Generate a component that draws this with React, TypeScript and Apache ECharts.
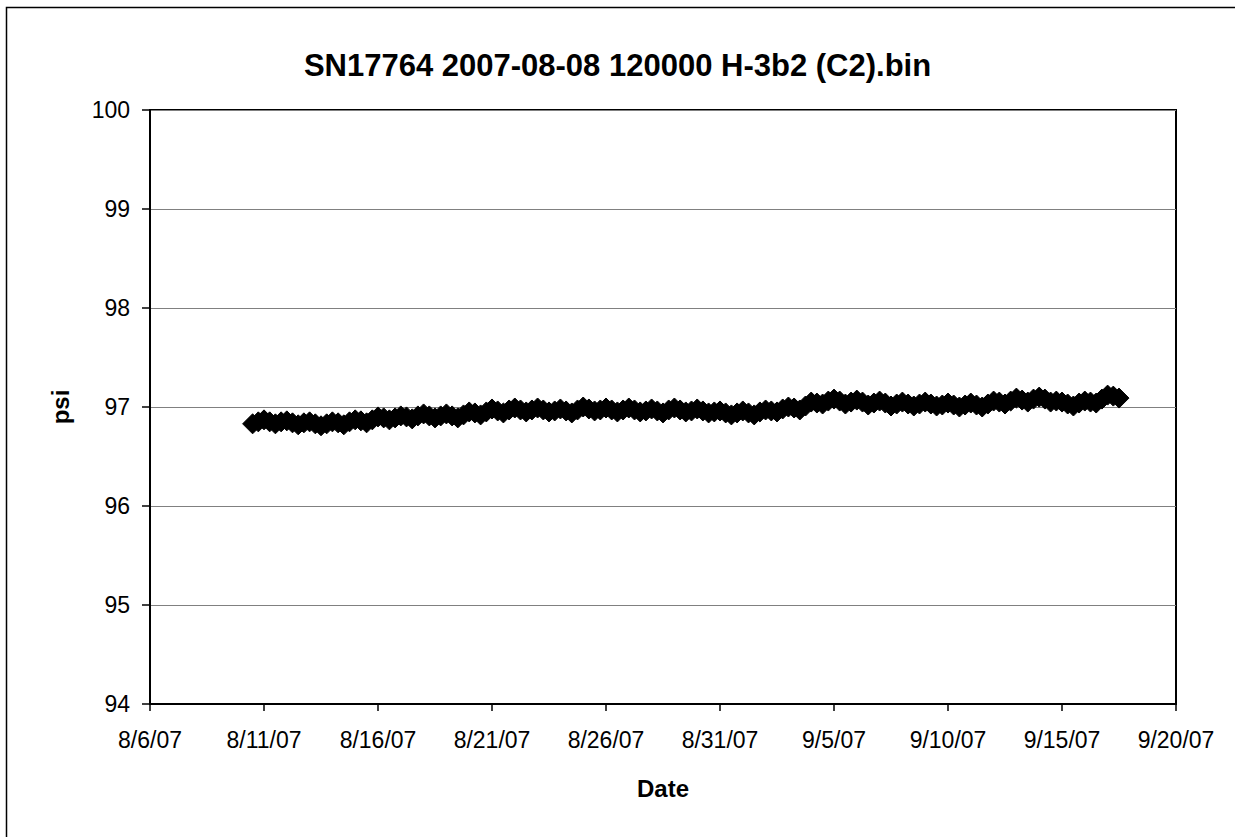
import React, { useEffect, useRef } from "react";
import * as echarts from "echarts";

const titleText = "SN17764 2007-08-08 120000 H-3b2 (C2).bin";
const xAxisName = "Date";
const yAxisName = "psi";

// x axis: days after 8/6/07
const axisStartUTC = Date.UTC(2007, 7, 6);
const xMin = 0;
const xMax = 45;
const xInterval = 5;
const yMin = 94;
const yMax = 100;
const yInterval = 1;

// first reading at 8/10/07 12:00, one reading every 6 hours
const firstDay = 4.5;
const stepDays = 0.25;
const psiValues = [
  96.83, 96.85,
  96.87, 96.85, 96.83, 96.85,
  96.86, 96.84, 96.82, 96.84,
  96.85, 96.83, 96.81, 96.83,
  96.85, 96.84, 96.82, 96.85,
  96.87, 96.86, 96.84, 96.87,
  96.9, 96.89, 96.87, 96.89,
  96.91, 96.9, 96.88, 96.91,
  96.93, 96.91, 96.89, 96.91,
  96.93, 96.91, 96.89, 96.92,
  96.95, 96.94, 96.92, 96.95,
  96.98, 96.96, 96.94, 96.97,
  96.99, 96.97, 96.95, 96.97,
  96.99, 96.97, 96.95, 96.96,
  96.98, 96.96, 96.94, 96.97,
  97.0, 96.98, 96.96, 96.97,
  96.99, 96.97, 96.95, 96.97,
  96.99, 96.97, 96.95, 96.96,
  96.98, 96.96, 96.94, 96.97,
  96.99, 96.97, 96.95, 96.96,
  96.98, 96.96, 96.94, 96.95,
  96.96, 96.94, 96.92, 96.94,
  96.96, 96.94, 96.92, 96.95,
  96.97, 96.96, 96.95, 96.98,
  97.0, 96.99, 96.97, 97.01,
  97.05, 97.04, 97.03, 97.06,
  97.08, 97.06, 97.03, 97.05,
  97.07, 97.05, 97.02, 97.04,
  97.06, 97.04, 97.01, 97.03,
  97.05, 97.03, 97.01, 97.03,
  97.05, 97.03, 97.01, 97.02,
  97.04, 97.02, 97.0, 97.02,
  97.04, 97.02, 97.0, 97.03,
  97.06, 97.05, 97.03, 97.06,
  97.09, 97.07, 97.05, 97.08,
  97.1, 97.08, 97.05, 97.06,
  97.05, 97.03, 97.01, 97.04,
  97.06, 97.05, 97.04, 97.08,
  97.12, 97.11, 97.09,
];

function formatDay(v: number): string {
  const d = new Date(axisStartUTC + v * 86400000);
  const yy = String(d.getUTCFullYear() % 100).padStart(2, "0");
  return `${d.getUTCMonth() + 1}/${d.getUTCDate()}/${yy}`;
}

export default function App() {
  const ref = useRef<HTMLDivElement>(null);
  useEffect(() => {
    if (!ref.current) return;
    const chart = echarts.init(ref.current, null, { renderer: "svg" });
    const data = psiValues.map((v, i) => [firstDay + i * stepDays, v]);
    const font = "Liberation Sans, Arial, Helvetica, sans-serif";
    chart.setOption({
      animation: false,
      backgroundColor: "#ffffff",
      textStyle: { fontFamily: font },
      title: {
        text: titleText,
        left: "center",
        top: 45,
        textStyle: { fontFamily: font, fontSize: 31, fontWeight: "bold", color: "#000" },
      },
      graphic: [
        {
          type: "rect",
          left: 4,
          top: 5,
          shape: { width: 1240, height: 840 },
          style: { fill: "none", stroke: "#000", lineWidth: 1.5 },
          silent: true,
        },
      ],
      grid: {
        left: 150,
        right: 59,
        top: 110,
        bottom: 133,
        show: true,
        borderColor: "#000",
        borderWidth: 2,
        backgroundColor: "transparent",
      },
      xAxis: {
        type: "value",
        min: xMin,
        max: xMax,
        interval: xInterval,
        name: xAxisName,
        nameLocation: "middle",
        nameGap: 72,
        nameTextStyle: { fontFamily: font, fontSize: 24, fontWeight: "bold", color: "#000" },
        axisLine: { show: true, lineStyle: { color: "#000", width: 2 } },
        axisTick: { show: true, inside: false, length: 7, lineStyle: { color: "#000", width: 1.5 } },
        axisLabel: {
          formatter: (v: number) => formatDay(v),
          fontFamily: font,
          fontSize: 23,
          color: "#000",
          margin: 24,
        },
        splitLine: { show: false },
      },
      yAxis: {
        type: "value",
        min: yMin,
        max: yMax,
        interval: yInterval,
        name: yAxisName,
        nameLocation: "middle",
        nameGap: 78,
        nameRotate: 90,
        nameTextStyle: { fontFamily: font, fontSize: 24, fontWeight: "bold", color: "#000" },
        axisLine: { show: true, lineStyle: { color: "#000", width: 2 } },
        axisTick: { show: true, inside: false, length: 8, lineStyle: { color: "#000", width: 1.5 } },
        axisLabel: { fontFamily: font, fontSize: 23, color: "#000", margin: 20 },
        splitLine: { show: true, lineStyle: { color: "#808080", width: 1 } },
      },
      series: [
        {
          type: "line",
          data,
          symbol: "diamond",
          symbolSize: [20, 20],
          showSymbol: true,
          showAllSymbol: true,
          itemStyle: { color: "#000", borderColor: "#000", borderWidth: 1 },
          lineStyle: { color: "#000", width: 3 },
          z: 3,
        },
      ],
    });
    return () => chart.dispose();
  }, []);
  return (
    <div
      ref={ref}
      style={{ position: "fixed", left: 0, top: 0, width: 1235, height: 837 }}
    />
  );
}
